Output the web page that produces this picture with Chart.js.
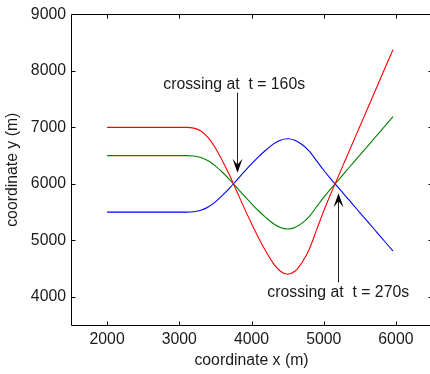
<!DOCTYPE html>
<html>
<head>
<meta charset="utf-8">
<script src="https://cdn.jsdelivr.net/npm/chart.js@4/dist/chart.umd.min.js"></script>
<style>
  html, body { margin: 0; padding: 0; overflow: hidden; background: #fff; }
  canvas { display: block; }
</style>
</head>
<body>
<canvas id="chart" width="445" height="374"></canvas>
<script>
const xPos = [2000, 2500, 3000, 3100, 3200, 3300, 3400, 3500, 3600, 3700, 3800, 3900, 4000,
  4100, 4200, 4300, 4400, 4500, 4600, 4700, 4800, 4900, 5000, 5100, 5200, 5300, 5400,
  5500, 5600, 5700, 5800, 5900, 5960];

const redY = [7000, 7000, 7000, 7000, 6987, 6935, 6818, 6636, 6402, 6142, 5856, 5570, 5297,
  5037, 4803, 4595, 4452, 4400, 4452, 4608, 4842, 5180, 5518, 5830, 6126, 6423, 6719,
  7016, 7312, 7608, 7905, 8201, 8378];

const greenY = [6500, 6500, 6500, 6500, 6494, 6468, 6409, 6318, 6201, 6071, 5928, 5785, 5649,
  5519, 5402, 5298, 5226, 5200, 5226, 5304, 5421, 5590, 5759, 5915, 6063, 6211, 6360,
  6508, 6656, 6804, 6952, 7101, 7189];

const blueY = [5500, 5500, 5500, 5500, 5507, 5533, 5591, 5682, 5799, 5929, 6072, 6215, 6352,
  6482, 6599, 6703, 6774, 6800, 6774, 6696, 6579, 6410, 6241, 6085, 5937, 5789, 5640,
  5492, 5344, 5196, 5048, 4899, 4811];

const xTicks = [2000, 3000, 4000, 5000, 6000];
const yTicks = [4000, 5000, 6000, 7000, 8000, 9000];

// Callouts, in data units: label anchor, arrow tail and arrow tip
const callouts = [
  { text: "crossing at  t = 160s", at: [2778, 7686], tail: [3795, 7616], tip: [3795, 6197] },
  { text: "crossing at  t = 270s", at: [4219, 3990], tail: [5202, 4253], tip: [5202, 5835] },
];

const FONT = { family: '"Liberation Sans", Arial, Helvetica, sans-serif', size: 15.8 };
const INK = "#1a1a1a";
const TICK = 4;

const pts = (ys) => xPos.map((x, i) => ({ x, y: ys[i] }));

// MATLAB-style closed box with inward ticks, plus the arrow callouts
const frame = {
  id: "frame",
  afterDatasetsDraw(chart) {
    const { ctx, chartArea: a, scales: { x, y } } = chart;
    const L = Math.round(a.left) + 0.5, R = Math.round(a.right) + 0.5;
    const T = Math.round(a.top) + 0.5, B = Math.round(a.bottom) + 0.5;
    ctx.save();
    ctx.strokeStyle = "#000";
    ctx.lineWidth = 1;
    ctx.beginPath();
    ctx.rect(L, T, R - L, B - T);
    x.ticks.forEach((t) => {
      const px = Math.round(x.getPixelForValue(t.value)) + 0.5;
      ctx.moveTo(px, B); ctx.lineTo(px, B - TICK);
      ctx.moveTo(px, T); ctx.lineTo(px, T + TICK);
    });
    y.ticks.forEach((t) => {
      const py = Math.round(y.getPixelForValue(t.value)) + 0.5;
      ctx.moveTo(L, py); ctx.lineTo(L + TICK, py);
      ctx.moveTo(R, py); ctx.lineTo(R - TICK, py);
    });
    ctx.stroke();

    ctx.font = `${FONT.size}px ${FONT.family}`;
    ctx.textAlign = "left";
    ctx.textBaseline = "alphabetic";
    callouts.forEach((c) => {
      ctx.fillStyle = INK;
      ctx.fillText(c.text, x.getPixelForValue(c.at[0]), y.getPixelForValue(c.at[1]));
      const px = Math.round(x.getPixelForValue(c.tip[0])) + 0.5;
      const y0 = y.getPixelForValue(c.tail[1]);
      const y1 = y.getPixelForValue(c.tip[1]);
      const dir = Math.sign(y1 - y0);
      ctx.strokeStyle = "#222";
      ctx.beginPath();
      ctx.moveTo(px, y0);
      ctx.lineTo(px, y1 - dir * 8);
      ctx.stroke();
      ctx.fillStyle = "#000";
      ctx.beginPath();
      ctx.moveTo(px, y1);
      ctx.lineTo(px - 5, y1 - dir * 14);
      ctx.lineTo(px, y1 - dir * 8);
      ctx.lineTo(px + 5, y1 - dir * 14);
      ctx.closePath();
      ctx.fill();
    });
    ctx.restore();
  },
};

const line = (data, color) => ({
  data,
  showLine: true,
  borderColor: color,
  backgroundColor: color,
  borderWidth: 1.1,
  pointRadius: 0,
  tension: 0,
  cubicInterpolationMode: "monotone",
});

const plain = (v) => String(v);

new Chart(document.getElementById("chart"), {
  type: "scatter",
  data: {
    datasets: [
      line(pts(redY), "#ff0000"),
      line(pts(greenY), "#008000"),
      line(pts(blueY), "#0000ff"),
    ],
  },
  options: {
    responsive: false,
    animation: false,
    layout: { padding: { top: 11, right: 13, left: 0, bottom: 0 } },
    plugins: { legend: { display: false }, tooltip: { enabled: false } },
    scales: {
      x: {
        type: "linear",
        min: 1500,
        max: 6500,
        afterBuildTicks: (s) => { s.ticks = xTicks.map((v) => ({ value: v })); },
        afterFit: (s) => { s.height = 49; },
        ticks: { font: FONT, color: INK, padding: 5, maxRotation: 0, autoSkip: false, callback: plain },
        grid: { display: false, drawTicks: false },
        border: { display: false },
        title: { display: true, text: "coordinate x (m)", font: FONT, color: INK, padding: { top: 0, bottom: 4 } },
      },
      y: {
        type: "linear",
        min: 3500,
        max: 9000,
        afterBuildTicks: (s) => { s.ticks = yTicks.map((v) => ({ value: v })); },
        afterFit: (s) => { s.width = 71; },
        ticks: { font: FONT, color: INK, padding: 5, autoSkip: false, callback: plain },
        grid: { display: false, drawTicks: false },
        border: { display: false },
        title: { display: true, text: "coordinate y (m)", font: FONT, color: INK, padding: { top: 3, bottom: 0 } },
      },
    },
  },
  plugins: [frame],
});
</script>
</body>
</html>
